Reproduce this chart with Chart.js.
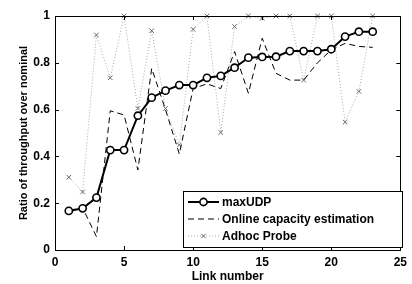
<!DOCTYPE html>
<html>
<head>
<meta charset="utf-8">
<script src="https://cdn.jsdelivr.net/npm/chart.js@4/dist/chart.umd.min.js"></script>
<style>
html,body{margin:0;padding:0;background:#fff;}
canvas{display:block;}
</style>
</head>
<body>
<canvas id="c" width="412" height="284"></canvas>
<script>
const linkNumbers = [1,2,3,4,5,6,7,8,9,10,11,12,13,14,15,16,17,18,19,20,21,22,23];
const maxUDP = [0.167,0.178,0.224,0.427,0.427,0.574,0.651,0.681,0.705,0.705,0.736,0.744,0.779,0.822,0.825,0.826,0.850,0.850,0.850,0.858,0.912,0.933,0.933];
const onlineCapacity = [0.17,0.18,0.057,0.595,0.577,0.342,0.776,0.60,0.41,0.69,0.71,0.69,0.848,0.67,0.905,0.755,0.726,0.726,0.80,0.855,0.883,0.87,0.866];
const adhocProbe = [0.311,0.248,0.919,0.736,1.0,0.605,0.937,0.605,0.449,0.943,1.0,0.502,0.955,1.0,0.99,1.0,1.0,0.726,1.0,1.0,0.546,0.678,1.0];
const seriesLabels = ['maxUDP','Online capacity estimation','Adhoc Probe'];
const xTicks = [0,5,10,15,20,25];
const yTicks = [0,0.2,0.4,0.6,0.8,1];
const yTickLabels = ['0','0.2','0.4','0.6','0.8','1'];

const FONT = 'Liberation Sans, Arial, Helvetica, sans-serif';
const toXY = arr => arr.map((v,i)=>({x:linkNumbers[i], y:v}));

const frameTicks = {
  id:'frameTicks',
  afterDatasetsDraw(chart){
    const {ctx, chartArea:a, scales:{x,y}} = chart;
    ctx.save();
    ctx.strokeStyle='#000'; ctx.lineWidth=1;
    const L=4;
    ctx.beginPath();
    xTicks.forEach(v=>{
      const px=Math.round(x.getPixelForValue(v))+0.5;
      ctx.moveTo(px,a.bottom); ctx.lineTo(px,a.bottom-L);
      ctx.moveTo(px,a.top); ctx.lineTo(px,a.top+L);
    });
    yTicks.forEach(v=>{
      const py=Math.round(y.getPixelForValue(v))+0.5;
      ctx.moveTo(a.left,py); ctx.lineTo(a.left+L,py);
      ctx.moveTo(a.right,py); ctx.lineTo(a.right-L,py);
    });
    ctx.stroke();
    ctx.strokeRect(Math.round(a.left)+0.5, Math.round(a.top)+0.5, Math.round(a.right-a.left), Math.round(a.bottom-a.top));
    ctx.restore();
  },
  afterDraw(chart){
    const ctx=chart.ctx;
    const bx=183, by=191, bw=219, bh=56;
    ctx.save();
    ctx.fillStyle='#fff';
    ctx.fillRect(bx,by,bw,bh);
    ctx.strokeStyle='#000'; ctx.lineWidth=1;
    ctx.strokeRect(bx+0.5,by+0.5,bw,bh);
    const rows=[202,219,236];
    chart.data.datasets.forEach((ds,i)=>{
      const yy=rows[i];
      ctx.save();
      ctx.strokeStyle=ds.borderColor; ctx.lineWidth=ds.borderWidth;
      ctx.setLineDash(ds.borderDash||[]);
      ctx.beginPath(); ctx.moveTo(188,yy); ctx.lineTo(219,yy); ctx.stroke();
      ctx.restore();
      if (ds.pointRadius>0){
        ctx.save();
        ctx.fillStyle=ds.pointBackgroundColor||'#fff';
        ctx.strokeStyle=ds.pointBorderColor||'#000';
        ctx.lineWidth=ds.pointBorderWidth||1;
        Chart.helpers.drawPoint(ctx,{
          pointStyle:ds.pointStyle, radius:ds.pointRadius, borderWidth:ds.pointBorderWidth||1, rotation:0
        },203.5,yy);
        ctx.restore();
      }
      ctx.fillStyle='#000';
      ctx.font='bold 12px '+FONT;
      ctx.textBaseline='middle';
      ctx.textAlign='left';
      ctx.fillText(ds.label,222,yy+0.5);
    });
    ctx.restore();
  }
};

new Chart(document.getElementById('c'),{
  type:'line',
  data:{
    datasets:[
      {label:seriesLabels[0], data:toXY(maxUDP), borderColor:'#000', borderWidth:2,
       pointStyle:'circle', pointRadius:3.6, pointBorderWidth:1.6, pointBackgroundColor:'#fff', pointBorderColor:'#000',
       tension:0, clip:false},
      {label:seriesLabels[1], data:toXY(onlineCapacity), borderColor:'#000', borderWidth:1, borderDash:[6,4],
       pointRadius:0, tension:0, clip:false},
      {label:seriesLabels[2], data:toXY(adhocProbe), borderColor:'#a8a8a8', borderWidth:1, borderDash:[1,2],
       pointStyle:'crossRot', pointRadius:3.2, pointBorderWidth:1, pointBorderColor:'#666', pointBackgroundColor:'#666',
       tension:0, clip:false}
    ]
  },
  options:{
    responsive:false, devicePixelRatio:1, animation:false,
    layout:{padding:{left:0,top:16,right:7,bottom:0}},
    plugins:{legend:{display:false}, tooltip:{enabled:false}},
    scales:{
      x:{type:'linear', min:0, max:25,
        afterFit(s){s.height=34;},
        afterBuildTicks(s){s.ticks=xTicks.map(v=>({value:v}));},
        grid:{display:false, drawTicks:false},
        border:{display:false},
        ticks:{padding:5, color:'#000', font:{family:FONT, size:12, weight:'bold'}, maxRotation:0,
               callback:(v)=>String(v)},
        title:{display:true, text:'Link number', color:'#000', padding:{top:0,bottom:0},
               font:{family:FONT, size:12, weight:'bold'}}
      },
      y:{type:'linear', min:0, max:1,
        afterFit(s){s.width=55;},
        afterBuildTicks(s){s.ticks=yTicks.map(v=>({value:v}));},
        grid:{display:false, drawTicks:false},
        border:{display:false},
        ticks:{padding:5, color:'#000', font:{family:FONT, size:12, weight:'bold'},
               callback:(v)=>{const i=yTicks.findIndex(t=>Math.abs(t-v)<1e-9); return i>=0?yTickLabels[i]:'';}},
        title:{display:true, text:'Ratio of throughput over nominal', color:'#000', padding:{top:17,bottom:0},
               font:{family:FONT, size:11, weight:'bold'}}
      }
    }
  },
  plugins:[frameTicks]
});
</script>
</body>
</html>
